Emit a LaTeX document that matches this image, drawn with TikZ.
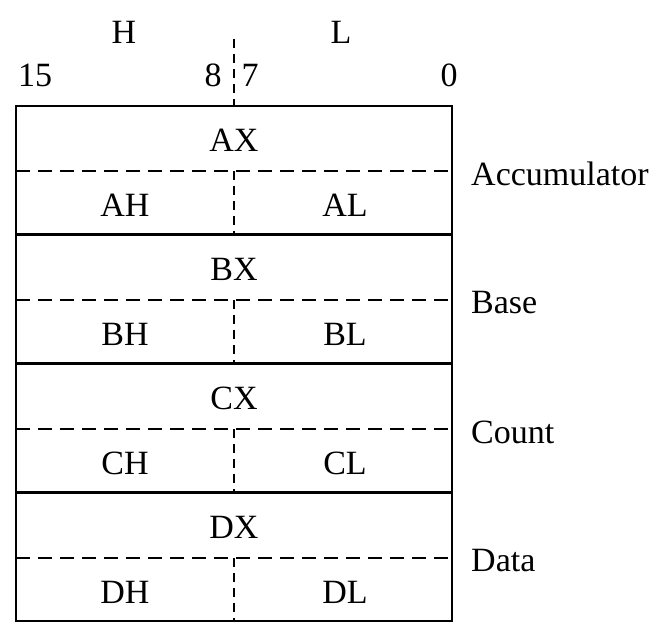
\documentclass[tikz,border=0pt]{standalone}
\usepackage{fontspec}
\setmainfont{Liberation Serif}
\begin{document}
\begin{tikzpicture}[x=1pt,y=-1pt,
 lbl/.style={font=\fontsize{34}{38}\selectfont, inner sep=0pt},
 reg/.style={draw, line width=2.4pt, minimum width=436pt, minimum height=128pt, inner sep=0pt},
 dsh/.style={line width=1.6pt, dash pattern=on 14pt off 8pt},
 vdsh/.style={line width=1.6pt, dash pattern=on 9pt off 6pt}]
\useasboundingbox (0,0) rectangle (664,627);
\foreach \r/\yy/\lab in {A/106/Accumulator, B/235/Base, C/364/Count, D/493/Data} {
  \node[reg] (\r reg) at (234,\yy+64) {};
  \coordinate (\r w) at (16,\yy+65);
  \coordinate (\r e) at (452,\yy+65);
  \coordinate (\r m) at (234,\yy+65);
  \coordinate (\r b) at (234,\yy+128);
  \draw[dsh] (\r w) -- (\r e);
  \draw[vdsh] (\r m) -- (\r b);
  \node[lbl] (\r X) at (234,\yy+34) {\r X};
  \node[lbl] (\r H) at (125,\yy+99) {\r H};
  \node[lbl] (\r L) at (345,\yy+99) {\r L};
  \node[lbl, anchor=west] (\r n) at (471,\yy+68) {\lab};
}
\coordinate (topdiv) at (234,39);
\coordinate (topbox) at (234,106);
\draw[vdsh] (topdiv) -- (topbox);
\node[lbl] (H) at (124,32) {H};
\node[lbl] (L) at (341,32) {L};
\node[lbl] (b15) at (35,75) {15};
\node[lbl] (b8) at (213,75) {8};
\node[lbl] (b7) at (250,75) {7};
\node[lbl] (b0) at (449,75) {0};
\end{tikzpicture}
\end{document}
